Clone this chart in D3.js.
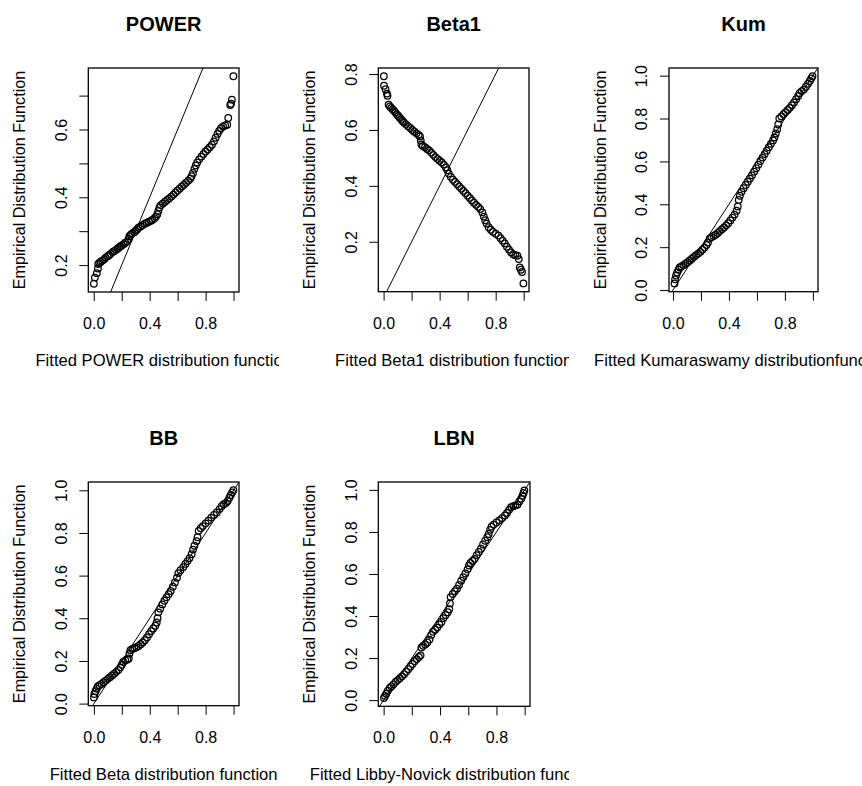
<!DOCTYPE html>
<html><head><meta charset="utf-8">
<script src="https://cdn.jsdelivr.net/npm/d3@7"></script>
<style>
body{margin:0;background:#fff}
svg{display:block}
text{font-family:"Liberation Sans",Arial,sans-serif;fill:#000}
</style>
</head><body>
<svg id="chart" width="862" height="786"></svg>
<script>
// ---------------- data ----------------
const titles = ["POWER", "Beta1", "Kum", "BB", "LBN"];
const xTitles = [
  "Fitted POWER distribution function",
  "Fitted Beta1 distribution function",
  "Fitted Kumaraswamy distributionfunction",
  "Fitted Beta distribution function",
  "Fitted Libby-Novick distribution function"
];
const yTitle = "Empirical Distribution Function";
const xTicks = [0, 0.2, 0.4, 0.6, 0.8, 1.0];
const xTickLabels = [0, 0.4, 0.8];
const yTicksPower = [0.2, 0.3, 0.4, 0.5, 0.6, 0.7];
const yTickLabelsPower = [0.2, 0.4, 0.6];
const yTicksBeta1 = [0.2, 0.4, 0.6, 0.8];
const yTicksUnit = [0, 0.2, 0.4, 0.6, 0.8, 1.0];

const powerX = [0.001,0.008,0.022,0.03,0.032,0.04,0.05,0.06,0.075,0.085,0.1,0.11,0.12,0.135,0.145,0.16,0.17,0.18,0.19,0.2,0.215,0.225,0.24,0.25,0.255,0.265,0.275,0.29,0.3,0.31,0.32,0.335,0.35,0.365,0.38,0.395,0.41,0.42,0.435,0.445,0.455,0.462,0.47,0.48,0.495,0.51,0.525,0.54,0.555,0.57,0.585,0.6,0.615,0.63,0.645,0.66,0.675,0.69,0.7,0.71,0.72,0.73,0.74,0.755,0.77,0.785,0.8,0.815,0.83,0.845,0.86,0.872,0.885,0.897,0.91,0.925,0.94,0.955,0.962,0.976,0.982,0.988,0.999];
const powerY = [0.145,0.163,0.176,0.19,0.203,0.206,0.21,0.213,0.217,0.222,0.226,0.229,0.233,0.238,0.241,0.245,0.248,0.252,0.255,0.258,0.262,0.266,0.27,0.277,0.285,0.29,0.293,0.297,0.301,0.305,0.31,0.314,0.318,0.322,0.325,0.328,0.331,0.334,0.338,0.343,0.35,0.36,0.37,0.377,0.382,0.387,0.392,0.397,0.402,0.408,0.414,0.42,0.426,0.432,0.437,0.443,0.449,0.455,0.462,0.472,0.484,0.494,0.503,0.512,0.52,0.528,0.535,0.541,0.548,0.555,0.565,0.576,0.587,0.596,0.604,0.609,0.612,0.614,0.634,0.672,0.676,0.688,0.757];

const beta1X = [0.002,0.003,0.014,0.024,0.028,0.036,0.045,0.055,0.065,0.075,0.085,0.095,0.105,0.115,0.125,0.135,0.145,0.16,0.175,0.19,0.205,0.22,0.235,0.25,0.26,0.265,0.27,0.28,0.295,0.31,0.325,0.34,0.355,0.37,0.385,0.4,0.415,0.43,0.445,0.455,0.465,0.48,0.495,0.51,0.525,0.54,0.555,0.57,0.585,0.6,0.615,0.63,0.645,0.66,0.675,0.69,0.705,0.715,0.725,0.735,0.75,0.765,0.78,0.8,0.82,0.835,0.85,0.865,0.88,0.895,0.91,0.925,0.94,0.955,0.965,0.972,0.98,0.988,0.998];
const beta1Y = [0.792,0.758,0.746,0.73,0.722,0.69,0.684,0.679,0.673,0.668,0.662,0.656,0.65,0.644,0.638,0.632,0.627,0.62,0.613,0.607,0.6,0.594,0.588,0.582,0.577,0.562,0.548,0.543,0.538,0.532,0.527,0.519,0.511,0.503,0.496,0.49,0.484,0.476,0.466,0.456,0.444,0.432,0.422,0.414,0.406,0.398,0.39,0.382,0.374,0.365,0.357,0.348,0.34,0.332,0.325,0.317,0.305,0.29,0.277,0.265,0.252,0.243,0.236,0.229,0.222,0.213,0.204,0.194,0.182,0.172,0.162,0.155,0.152,0.15,0.138,0.108,0.1,0.092,0.051];

const kumX = [0.011,0.015,0.022,0.03,0.04,0.048,0.06,0.075,0.09,0.105,0.12,0.135,0.15,0.165,0.18,0.195,0.21,0.225,0.24,0.25,0.262,0.275,0.29,0.305,0.32,0.335,0.35,0.365,0.38,0.395,0.41,0.425,0.44,0.455,0.463,0.47,0.478,0.49,0.505,0.52,0.535,0.55,0.565,0.58,0.595,0.61,0.625,0.64,0.655,0.67,0.685,0.7,0.715,0.725,0.735,0.745,0.752,0.76,0.775,0.79,0.805,0.82,0.835,0.85,0.865,0.88,0.895,0.905,0.92,0.935,0.95,0.965,0.978,0.988,0.997];
const kumY = [0.031,0.05,0.068,0.082,0.095,0.105,0.11,0.116,0.123,0.13,0.138,0.146,0.155,0.163,0.17,0.178,0.188,0.198,0.21,0.222,0.24,0.246,0.252,0.258,0.266,0.275,0.284,0.292,0.302,0.312,0.325,0.338,0.352,0.37,0.39,0.42,0.44,0.458,0.475,0.49,0.505,0.52,0.535,0.552,0.568,0.585,0.602,0.618,0.634,0.65,0.666,0.682,0.698,0.712,0.73,0.75,0.772,0.8,0.81,0.82,0.83,0.84,0.85,0.862,0.875,0.89,0.905,0.918,0.928,0.935,0.948,0.962,0.975,0.987,0.997];

const bbX = [0.0,0.004,0.012,0.02,0.028,0.04,0.055,0.07,0.085,0.1,0.115,0.13,0.145,0.16,0.175,0.19,0.2,0.21,0.225,0.24,0.25,0.255,0.262,0.275,0.29,0.305,0.32,0.335,0.35,0.365,0.38,0.395,0.41,0.425,0.44,0.45,0.456,0.462,0.475,0.49,0.505,0.52,0.535,0.55,0.565,0.58,0.595,0.605,0.62,0.64,0.655,0.67,0.685,0.7,0.71,0.72,0.735,0.742,0.75,0.765,0.78,0.8,0.82,0.84,0.86,0.88,0.9,0.915,0.93,0.945,0.958,0.97,0.98,0.99,0.999];
const bbY = [0.029,0.045,0.058,0.07,0.08,0.086,0.092,0.1,0.108,0.116,0.124,0.132,0.14,0.149,0.158,0.17,0.182,0.195,0.202,0.207,0.212,0.235,0.25,0.256,0.26,0.264,0.27,0.278,0.287,0.297,0.31,0.325,0.34,0.352,0.365,0.38,0.4,0.428,0.445,0.465,0.482,0.498,0.513,0.528,0.548,0.568,0.59,0.612,0.625,0.64,0.655,0.668,0.682,0.7,0.722,0.74,0.762,0.78,0.81,0.822,0.832,0.845,0.858,0.872,0.884,0.896,0.912,0.925,0.935,0.94,0.95,0.965,0.978,0.99,1.0];

const lbnX = [0.002,0.01,0.019,0.03,0.043,0.055,0.07,0.085,0.1,0.115,0.13,0.145,0.16,0.175,0.19,0.205,0.22,0.235,0.25,0.262,0.268,0.28,0.295,0.31,0.325,0.338,0.35,0.365,0.38,0.395,0.41,0.425,0.44,0.455,0.465,0.47,0.475,0.49,0.505,0.52,0.535,0.55,0.565,0.58,0.595,0.605,0.615,0.63,0.645,0.66,0.675,0.69,0.705,0.72,0.735,0.745,0.755,0.765,0.78,0.8,0.82,0.84,0.86,0.875,0.89,0.905,0.92,0.935,0.95,0.962,0.975,0.985,0.992,0.998];
const lbnY = [0.01,0.02,0.03,0.045,0.058,0.065,0.075,0.087,0.095,0.104,0.113,0.123,0.135,0.147,0.16,0.172,0.185,0.195,0.205,0.213,0.25,0.258,0.265,0.274,0.288,0.31,0.325,0.335,0.345,0.36,0.372,0.39,0.405,0.418,0.432,0.46,0.49,0.505,0.518,0.53,0.548,0.568,0.585,0.602,0.622,0.64,0.652,0.662,0.672,0.69,0.705,0.72,0.74,0.758,0.775,0.79,0.81,0.825,0.835,0.845,0.855,0.866,0.878,0.89,0.905,0.918,0.922,0.926,0.93,0.945,0.958,0.972,0.985,0.998];

// ---------------- layout (pixels) ----------------
const panels = [
  {xs: powerX, ys: powerY, yTicks: yTicksPower, yLab: yTickLabelsPower, box: [88.3, 68, 239, 292], clip: [0, 279]},
  {xs: beta1X, ys: beta1Y, yTicks: yTicksBeta1, yLab: yTicksBeta1, box: [378.3, 68, 529, 291.7], clip: [287, 569]},
  {xs: kumX, ys: kumY, yTicks: yTicksUnit, yLab: yTicksUnit, box: [669, 68, 818, 291.7], clip: [578, 862]},
  {xs: bbX, ys: bbY, yTicks: yTicksUnit, yLab: yTicksUnit, box: [88.3, 482, 239, 705.7], clip: [0, 279]},
  {xs: lbnX, ys: lbnY, yTicks: yTicksUnit, yLab: yTicksUnit, box: [378.3, 482, 530, 706.3], clip: [287, 569]}
];

const svg = d3.select("#chart");
const defs = svg.append("defs");

function padDomain(arr) {
  const [a, b] = d3.extent(arr);
  const p = (b - a) * 0.04;
  return [a - p, b + p];
}

panels.forEach((P, i) => {
  const [l, t, r, b] = P.box;
  const x = d3.scaleLinear().domain(padDomain(P.xs)).range([l, r]);
  const y = d3.scaleLinear().domain(padDomain(P.ys)).range([b, t]);
  const g = svg.append("g");

  defs.append("clipPath").attr("id", "box" + i)
    .append("rect").attr("x", l).attr("y", t).attr("width", r - l).attr("height", b - t);
  defs.append("clipPath").attr("id", "col" + i)
    .append("rect").attr("x", P.clip[0]).attr("y", 0).attr("width", P.clip[1] - P.clip[0]).attr("height", 786);

  const plot = g.append("g").attr("clip-path", `url(#box${i})`);
  // reference line y = x
  const lo = Math.min(x.domain()[0], y.domain()[0]) - 1;
  const hi = Math.max(x.domain()[1], y.domain()[1]) + 1;
  plot.append("line")
    .attr("x1", x(lo)).attr("y1", y(lo)).attr("x2", x(hi)).attr("y2", y(hi))
    .attr("stroke", "#000").attr("stroke-width", 1);

  plot.selectAll("circle").data(d3.range(P.xs.length)).join("circle")
    .attr("cx", k => x(P.xs[k])).attr("cy", k => y(P.ys[k]))
    .attr("r", 3.3).attr("fill", "none").attr("stroke", "#000").attr("stroke-width", 1.25);

  // box
  g.append("rect").attr("x", l).attr("y", t).attr("width", r - l).attr("height", b - t)
    .attr("fill", "none").attr("stroke", "#000").attr("stroke-width", 1.3);

  // x axis
  const xa = g.append("g").attr("transform", `translate(0,${b})`)
    .call(d3.axisBottom(x).tickValues(xTicks).tickSize(9).tickPadding(16.5)
      .tickFormat(d => xTickLabels.some(v => Math.abs(v - d) < 1e-9) ? d3.format(".1f")(d) : ""));
  xa.select(".domain").remove();
  xa.selectAll("line").attr("stroke", "#000").attr("stroke-width", 1);
  xa.selectAll("text").attr("font-size", 16).attr("font-family", '"Liberation Sans",Arial,sans-serif').attr("fill", "#000");

  // y axis
  const ya = g.append("g").attr("transform", `translate(${l},0)`)
    .call(d3.axisLeft(y).tickValues(P.yTicks).tickSize(9)
      .tickFormat(d => P.yLab.some(v => Math.abs(v - d) < 1e-9) ? d3.format(".1f")(d) : ""));
  ya.select(".domain").remove();
  ya.selectAll("line").attr("stroke", "#000").attr("stroke-width", 1);
  ya.selectAll("text")
    .attr("x", null).attr("dy", null)
    .attr("transform", "translate(-21.6,0) rotate(-90)")
    .attr("text-anchor", "middle")
    .attr("font-size", 16).attr("font-family", '"Liberation Sans",Arial,sans-serif').attr("fill", "#000");

  const cx = (l + r) / 2, cy = (t + b) / 2;
  // title
  g.append("text").attr("x", cx).attr("y", t - 37).attr("text-anchor", "middle")
    .attr("font-size", 20).attr("font-weight", "bold").text(titles[i]);
  // x title (clipped to figure column, as in the reference)
  g.append("g").attr("clip-path", `url(#col${i})`)
    .append("text").attr("x", cx).attr("y", b + 74).attr("text-anchor", "middle")
    .attr("font-size", 16.6).text(xTitles[i]);
  // y title
  g.append("text").attr("transform", `translate(${l - 63.3},${cy}) rotate(-90)`)
    .attr("text-anchor", "middle").attr("font-size", 16.2).text(yTitle);
});
</script>
</body></html>
